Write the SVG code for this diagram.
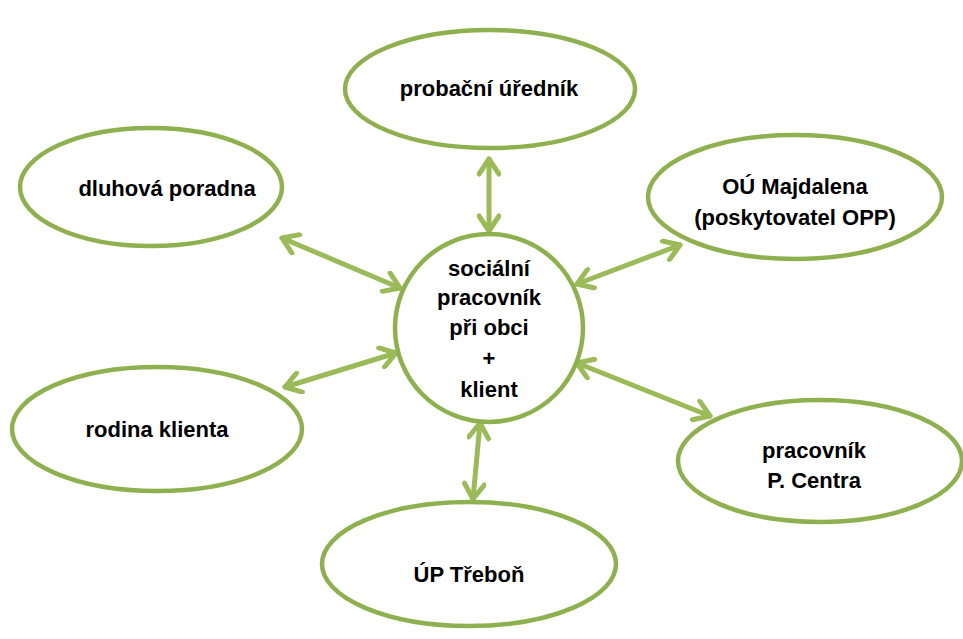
<svg xmlns="http://www.w3.org/2000/svg" width="963" height="639" viewBox="0 0 963 639">
<style>
.node{fill:#ffffff;stroke:#8fb04f;stroke-width:4.5}
.lbl{font-family:"Liberation Sans",Arial,sans-serif;font-weight:bold;font-size:22px;fill:#000;text-anchor:middle}
.con{stroke:#9bbb59;stroke-width:5;fill:none;stroke-linecap:round;marker-start:url(#ah);marker-end:url(#ah)}
</style>
<defs>
<marker id="ah" viewBox="-20 -12 24 24" refX="0" refY="0" markerWidth="24" markerHeight="24" markerUnits="userSpaceOnUse" orient="auto-start-reverse">
<path d="M-15,-10 L0,0 L-15,10" fill="none" stroke="#9bbb59" stroke-width="5" stroke-linecap="round" stroke-linejoin="round"/>
</marker>
</defs>
<rect width="963" height="639" fill="#ffffff"/>
<g id="connectors">
<line class="con" x1="489" y1="159" x2="489" y2="231"/>
<line class="con" x1="282" y1="238" x2="400" y2="288"/>
<line class="con" x1="577" y1="284" x2="680" y2="245"/>
<line class="con" x1="285" y1="387" x2="396" y2="353"/>
<line class="con" x1="577" y1="363" x2="710" y2="416"/>
<line class="con" x1="480" y1="423" x2="473" y2="499"/>
</g>
<g id="center">
<circle class="node" cx="489" cy="328" r="94"/>
<text class="lbl" x="489" y="276">sociální</text>
<text class="lbl" x="489" y="305">pracovník</text>
<text class="lbl" x="489" y="335">při obci</text>
<text class="lbl" x="489" y="366">+</text>
<text class="lbl" x="489" y="397">klient</text>
</g>
<g id="probacni">
<ellipse class="node" cx="490" cy="89" rx="145" ry="59"/>
<text class="lbl" x="489" y="96">probační úředník</text>
</g>
<g id="dluhova">
<ellipse class="node" cx="151" cy="187" rx="131" ry="59"/>
<text class="lbl" x="167" y="196">dluhová poradna</text>
</g>
<g id="majdalena">
<ellipse class="node" cx="795" cy="197" rx="147" ry="62"/>
<text class="lbl" x="795" y="194">OÚ Majdalena</text>
<text class="lbl" x="795" y="225">(poskytovatel OPP)</text>
</g>
<g id="rodina">
<ellipse class="node" cx="157" cy="429" rx="145" ry="62"/>
<text class="lbl" x="157" y="437">rodina klienta</text>
</g>
<g id="centra">
<ellipse class="node" cx="820" cy="461" rx="142" ry="61"/>
<text class="lbl" x="814" y="458">pracovník</text>
<text class="lbl" x="814" y="488">P. Centra</text>
</g>
<g id="up">
<ellipse class="node" cx="469" cy="564" rx="147" ry="62"/>
<text class="lbl" x="469" y="582">ÚP Třeboň</text>
</g>
</svg>
